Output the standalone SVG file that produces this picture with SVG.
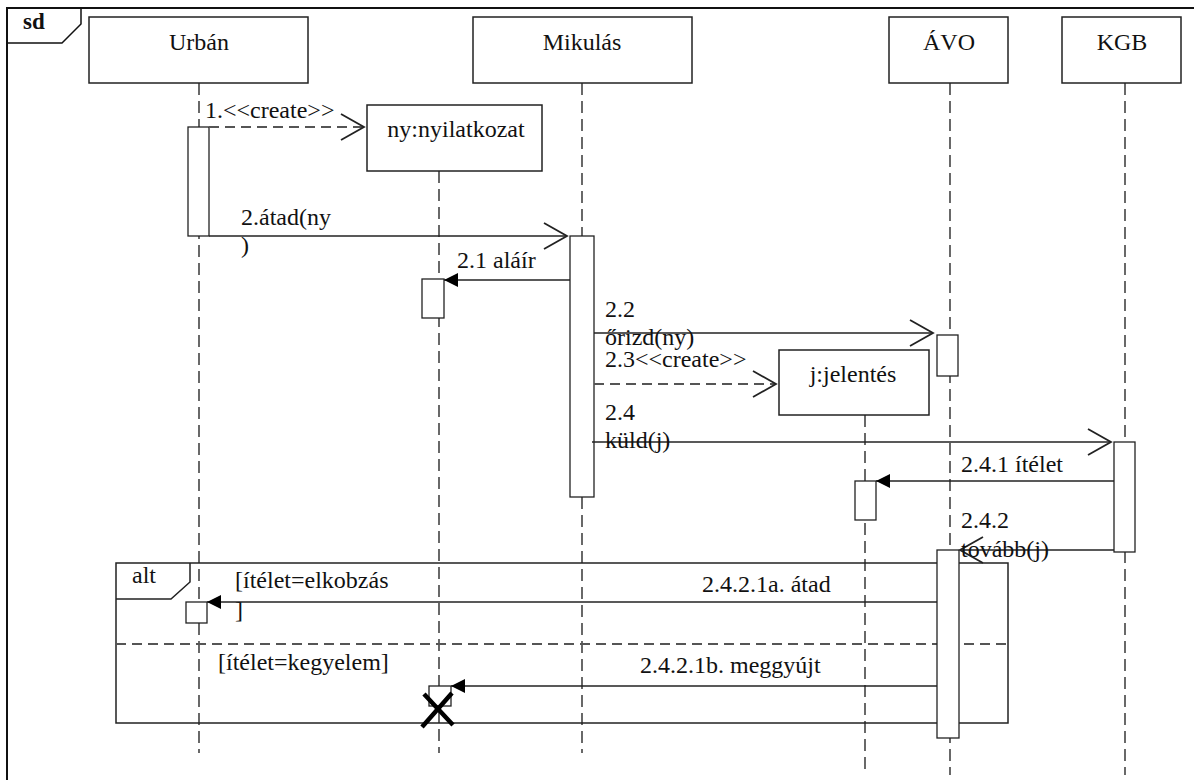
<svg xmlns="http://www.w3.org/2000/svg" width="1194" height="780" viewBox="0 0 1194 780">
<style>
text{font-family:"Liberation Serif","Times New Roman",serif;font-size:24px;fill:#111}
.box{fill:#fff;stroke:#222;stroke-width:1.5}
.act{fill:#fff;stroke:#222;stroke-width:1.3}
.life{stroke:#444;stroke-width:1.6;stroke-dasharray:12 6;fill:none}
.msg{stroke:#222;stroke-width:1.6;fill:none}
.dash{stroke:#555;stroke-width:1.8;stroke-dasharray:10 6;fill:none}
.mid{text-anchor:middle}
</style>
<defs>
<marker id="open" markerUnits="userSpaceOnUse" markerWidth="26" markerHeight="30" viewBox="0 0 26 30" refX="24" refY="15" orient="auto">
<path d="M1,2 L24,15 L1,28" fill="none" stroke="#222" stroke-width="1.8"/>
</marker>
<marker id="fill" markerUnits="userSpaceOnUse" markerWidth="15" markerHeight="15" viewBox="0 0 15 15" refX="14" refY="7.5" orient="auto">
<path d="M0,0.5 L14,7.5 L0,14.5 z" fill="#000"/>
</marker>
</defs>
<rect width="1194" height="780" fill="#fff"/>
<!-- frame -->
<g id="frame">
<path d="M7,800 L7,8 L1200,8" fill="none" stroke="#111" stroke-width="2"/>
<path d="M7,43 L62,43 L81,24 L81,8" fill="none" stroke="#111" stroke-width="1.5"/>
<text x="23" y="29" style="font-weight:bold;font-size:23px">sd</text>
</g>
<!-- lifelines -->
<g id="lifelines">
<line class="life" x1="199" y1="83" x2="199" y2="753"/>
<line class="life" x1="439" y1="171" x2="439" y2="753"/>
<line class="life" x1="582" y1="83" x2="582" y2="753"/>
<line class="life" x1="865" y1="415" x2="865" y2="770"/>
<line class="life" x1="950" y1="83" x2="950" y2="775"/>
<line class="life" x1="1125" y1="83" x2="1125" y2="775"/>
</g>
<!-- alt fragment -->
<g id="alt">
<rect x="116" y="563" width="892" height="160" fill="none" stroke="#222" stroke-width="1.5"/>
<path d="M116,599 L171,599 L190,582 L190,563" fill="none" stroke="#222" stroke-width="1.5"/>
<text x="132" y="583">alt</text>
<line class="dash" x1="116" y1="644" x2="1008" y2="644"/>
<text x="235" y="588">[ítélet=elkobzás</text>
<text x="235" y="618">]</text>
<text x="218" y="670">[ítélet=kegyelem]</text>
</g>
<!-- nodes -->
<g id="urban">
<rect class="box" x="89" y="17" width="219" height="66"/>
<text class="mid" x="199" y="50">Urbán</text>
</g>
<g id="mikulas">
<rect class="box" x="473" y="17" width="219" height="66"/>
<text class="mid" x="582" y="50">Mikulás</text>
</g>
<g id="avo">
<rect class="box" x="889" y="17" width="119" height="66"/>
<text class="mid" x="949" y="50">ÁVO</text>
</g>
<g id="kgb">
<rect class="box" x="1062" y="17" width="119" height="66"/>
<text class="mid" x="1122" y="50">KGB</text>
</g>
<g id="nyilatkozat">
<rect class="box" x="367" y="105" width="175" height="66"/>
<text class="mid" x="456" y="137">ny:nyilatkozat</text>
</g>
<g id="jelentes">
<rect class="box" x="779" y="350" width="150" height="65"/>
<text class="mid" x="853" y="382">j:jelentés</text>
</g>
<!-- activations -->
<g id="activations">
<rect class="act" x="188" y="127" width="21" height="109"/>
<rect class="act" x="570" y="236" width="24" height="261"/>
<rect class="act" x="422" y="279" width="22" height="39"/>
<rect class="act" x="937" y="335" width="21" height="41"/>
<rect class="act" x="1114" y="442" width="21" height="110"/>
<rect class="act" x="855" y="481" width="21" height="39"/>
<rect class="act" x="937" y="550" width="22" height="188"/>
<rect class="act" x="186" y="602" width="21" height="21"/>
<rect class="act" x="429" y="686" width="22" height="20"/>
</g>
<!-- connectors -->
<g id="connectors">
<line class="dash" x1="209" y1="127" x2="364" y2="127" marker-end="url(#open)"/>
<line class="msg" x1="209" y1="236" x2="567" y2="236" marker-end="url(#open)"/>
<line class="msg" x1="570" y1="280" x2="444" y2="280" marker-end="url(#fill)"/>
<line class="msg" x1="594" y1="333" x2="933" y2="333" marker-end="url(#open)"/>
<line class="dash" x1="594" y1="384" x2="776" y2="384" marker-end="url(#open)"/>
<line class="msg" x1="592" y1="442" x2="1111" y2="442" marker-end="url(#open)"/>
<line class="msg" x1="1114" y1="481" x2="876" y2="481" marker-end="url(#fill)"/>
<line class="msg" x1="1114" y1="550" x2="960" y2="550" marker-end="url(#open)"/>
<line class="msg" x1="937" y1="602" x2="207" y2="602" marker-end="url(#fill)"/>
<line class="msg" x1="937" y1="686" x2="451" y2="686" marker-end="url(#fill)"/>
<path d="M424,694 L453,725 M452,693 L422,727" stroke="#000" stroke-width="4.5" fill="none"/>
</g>
<!-- labels -->
<g id="labels">
<text x="205" y="118">1.&lt;&lt;create&gt;&gt;</text>
<text x="241" y="225">2.átad(ny</text>
<text x="241" y="253">)</text>
<text x="457" y="268">2.1 aláír</text>
<text x="605" y="317">2.2</text>
<text x="605" y="345">őrizd(ny)</text>
<text x="605" y="367">2.3&lt;&lt;create&gt;&gt;</text>
<text x="605" y="420">2.4</text>
<text x="605" y="448">küld(j)</text>
<text x="961" y="472">2.4.1 ítélet</text>
<text x="961" y="528">2.4.2</text>
<text x="961" y="557">tovább(j)</text>
<text x="702" y="592">2.4.2.1a. átad</text>
<text x="640" y="673">2.4.2.1b. meggyújt</text>
</g>
</svg>
